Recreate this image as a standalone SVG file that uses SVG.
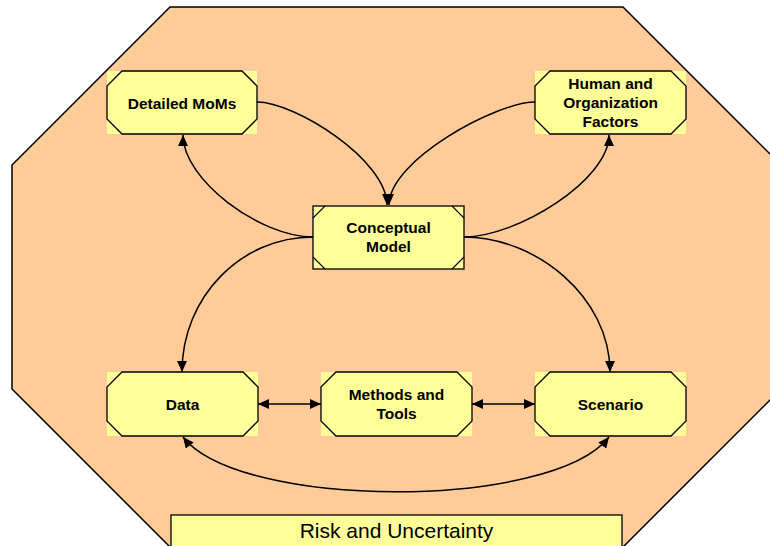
<svg xmlns="http://www.w3.org/2000/svg" width="770" height="546" viewBox="0 0 770 546">
<defs>
<style>
.bg{fill:#FFFF99;stroke:none}
.nd{fill:#FFFF99;stroke:#000;stroke-width:1.3}
.t{font-family:"Liberation Sans",Arial,sans-serif;font-weight:bold;font-size:15.5px;fill:#000;text-anchor:middle}
.c{fill:none;stroke:#000;stroke-width:1.5}
.ca{fill:none;stroke:#000;stroke-width:1.5;marker-end:url(#ah)}
.cb{fill:none;stroke:#000;stroke-width:1.5;marker-start:url(#ah);marker-end:url(#ah)}
</style>
<marker id="ah" viewBox="0 0 11 10" refX="11" refY="5" markerWidth="11" markerHeight="10" markerUnits="userSpaceOnUse" orient="auto-start-reverse">
<path d="M0,0 L11,5 L0,10 z" fill="#000"/>
</marker>
</defs>
<rect width="770" height="546" fill="#fff"/>
<polygon points="170,7 623,7 781,165 781,389 623,547 170,547 12,389 12,165" fill="#FFCC99" stroke="#000" stroke-width="1.5"/>

<g id="connectors">
<path class="ca" d="M257,102 C295,102 387,160 387,205"/>
<path class="ca" d="M535,102 C497,102 389,160 389,205"/>
<path class="ca" d="M313,237 C260,237 183,180 183,135"/>
<path class="ca" d="M464,237 C517,237 609,180 609,135"/>
<path class="ca" d="M313,237 C241,237 182,297 182,372"/>
<path class="ca" d="M464,237 C536,237 610,297 610,372"/>
<path class="cb" d="M258,404 L321,404"/>
<path class="cb" d="M472,404 L535,404"/>
<path class="cb" d="M183,437 C240,510 552,510 609,437"/>
</g>

<g id="detailed-moms">
<rect class="bg" x="107" y="71" width="150" height="63"/>
<polygon class="nd" points="122,71 242,71 257,86 257,119 242,134 122,134 107,119 107,86"/>
<text class="t" x="182" y="109">Detailed MoMs</text>
</g>

<g id="human-factors">
<rect class="bg" x="535" y="71" width="151" height="63"/>
<polygon class="nd" points="550,71 671,71 686,86 686,119 671,134 550,134 535,119 535,86"/>
<text class="t" x="610.5" y="89">Human and</text>
<text class="t" x="610.5" y="108">Organization</text>
<text class="t" x="610.5" y="127">Factors</text>
</g>

<g id="conceptual-model">
<rect class="nd" x="313" y="206" width="151" height="63"/>
<path d="M313,218 L325,206 M452,206 L464,218 M313,257 L325,269 M452,269 L464,257" stroke="#000" stroke-width="1.1" fill="none"/>
<text class="t" x="388.5" y="233">Conceptual</text>
<text class="t" x="388.5" y="252">Model</text>
</g>

<g id="data">
<rect class="bg" x="107" y="372" width="151" height="64"/>
<polygon class="nd" points="122,372 243,372 258,387 258,421 243,436 122,436 107,421 107,387"/>
<text class="t" x="182.5" y="410">Data</text>
</g>

<g id="methods-tools">
<rect class="bg" x="321" y="372" width="151" height="64"/>
<polygon class="nd" points="336,372 457,372 472,387 472,421 457,436 336,436 321,421 321,387"/>
<text class="t" x="396.5" y="400">Methods and</text>
<text class="t" x="396.5" y="419">Tools</text>
</g>

<g id="scenario">
<rect class="bg" x="535" y="372" width="151" height="64"/>
<polygon class="nd" points="550,372 671,372 686,387 686,421 671,436 550,436 535,421 535,387"/>
<text class="t" x="610.5" y="410">Scenario</text>
</g>

<g id="risk-uncertainty">
<rect x="171" y="515" width="451" height="40" fill="#FFFF99" stroke="#000" stroke-width="1.3"/>
<text x="396.5" y="538" font-family="Liberation Sans,Arial,sans-serif" font-size="21" text-anchor="middle" fill="#000">Risk and Uncertainty</text>
</g>
</svg>
